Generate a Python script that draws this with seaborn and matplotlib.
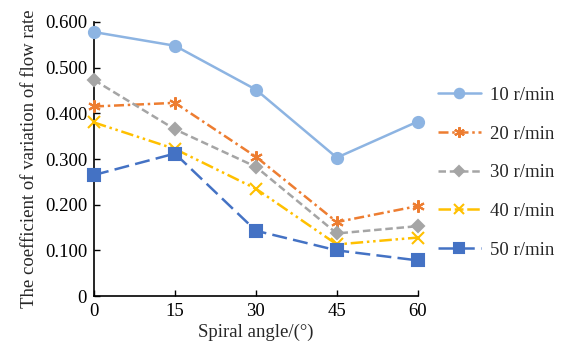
import pandas as pd
import numpy as np
import seaborn as sns
import matplotlib.pyplot as plt

angles = [0, 15, 30, 45, 60]
speeds = ["10 r/min", "20 r/min", "30 r/min", "40 r/min", "50 r/min"]
v10 = [0.578, 0.548, 0.452, 0.303, 0.382]
v20 = [0.415, 0.423, 0.305, 0.162, 0.197]
v30 = [0.473, 0.365, 0.283, 0.137, 0.153]
v40 = [0.380, 0.322, 0.235, 0.113, 0.128]
v50 = [0.265, 0.312, 0.143, 0.100, 0.078]
yticks = [0, 0.1, 0.2, 0.3, 0.4, 0.5, 0.6]
ylabels = ["0", "0.100", "0.200", "0.300", "0.400", "0.500", "0.600"]

df = pd.DataFrame({
    "angle": angles * 5,
    "cv": v10 + v20 + v30 + v40 + v50,
    "speed": np.repeat(speeds, len(angles)),
})

sns.set_theme(style="white")
plt.rcParams["font.family"] = ["Liberation Serif", "DejaVu Serif"]

colors = ["#8db4e2", "#ed7d31", "#a5a5a5", "#ffc000", "#4472c4"]
dashes = {
    "10 r/min": "",
    "20 r/min": (4, 1.5, 1, 1.5),
    "30 r/min": (3, 1.5),
    "40 r/min": (5, 1.5, 1, 1.5, 1, 1.5),
    "50 r/min": (6, 2.5),
}
markers = {
    "10 r/min": "o",
    "20 r/min": (6, 2, 0),
    "30 r/min": "D",
    "40 r/min": "x",
    "50 r/min": "s",
}
msize = {"10 r/min": 8, "20 r/min": 9, "30 r/min": 6, "40 r/min": 8, "50 r/min": 8}

fig, ax = plt.subplots(figsize=(5.63, 3.52), dpi=100)
fig.subplots_adjust(left=0.167, right=0.742, bottom=0.159, top=0.9375)

for spd, col in zip(speeds, colors):
    sub = df[df["speed"] == spd]
    sns.lineplot(data=sub, x="angle", y="cv", ax=ax, color=col, lw=1.8,
                 marker=markers[spd], markersize=msize[spd],
                 markeredgecolor=col, markeredgewidth=1.5,
                 dashes=dashes[spd] if dashes[spd] else None,
                 label=spd, clip_on=False, zorder=3)

ax.set_xlim(0, 60)
ax.set_ylim(0, 0.6)
ax.set_xticks(angles)
ax.set_xticklabels([str(a) for a in angles])
ax.set_yticks(yticks)
ax.set_yticklabels(ylabels)
ax.tick_params(direction="in", length=4, width=1, labelsize=13.5, colors="black",
               left=True, bottom=True, pad=5)
for s in ["top", "right"]:
    ax.spines[s].set_visible(False)
for s in ["left", "bottom"]:
    ax.spines[s].set_color("black")
    ax.spines[s].set_linewidth(1.2)

ax.set_xlabel("Spiral angle/(°)", fontsize=13.5, labelpad=3)
ax.set_ylabel("The coefficient of variation of flow rate", fontsize=13.5, labelpad=5)

ax.legend(loc="center left", bbox_to_anchor=(1.01, 0.45), frameon=False,
          fontsize=13.5, handlelength=2.3, handletextpad=0.5, labelspacing=1.15,
          markerscale=0.85)

fig.savefig("out.png", dpi=100)
